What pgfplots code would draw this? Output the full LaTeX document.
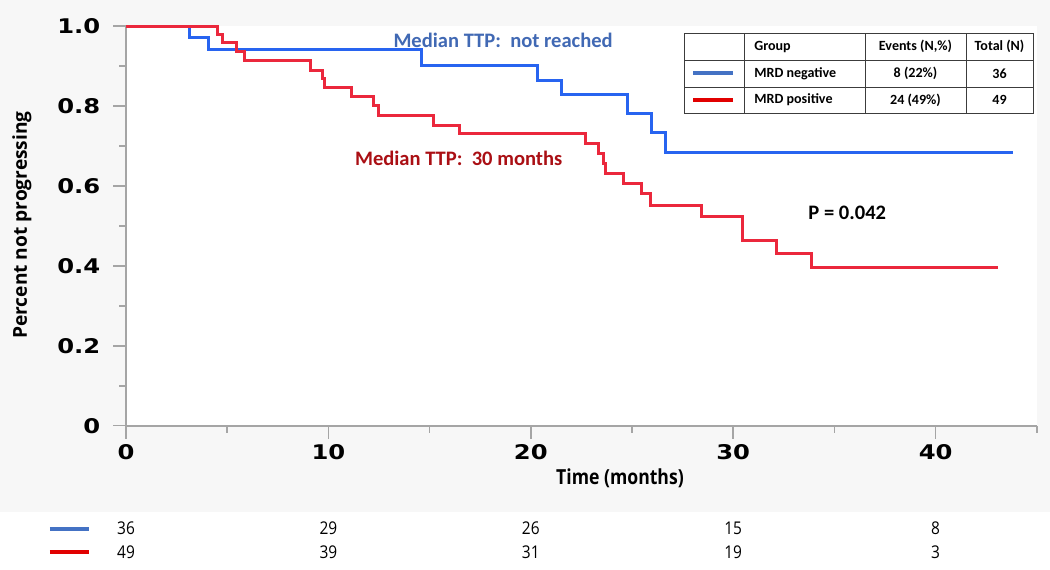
\documentclass[border=0pt]{standalone}
\usepackage{fontspec}
\setmainfont{Carlito}
\newfontfamily\tickfont{DejaVu Sans}[FakeStretch=1.2]
\newfontfamily\labfont{Open Sans}[FakeStretch=0.85]
\newfontfamily\labfontY{Open Sans}
\newfontfamily\numfont{Open Sans}[FakeStretch=0.88]
\usepackage{pgfplots}
\usepackage{pgfplotstable}
\pgfplotsset{compat=1.18}
\definecolor{bggray}{RGB}{247,247,247}
\definecolor{axisgray}{RGB}{165,165,165}
\definecolor{curveblue}{RGB}{40,100,240}
\definecolor{curvered}{RGB}{235,40,60}
\definecolor{txtblue}{RGB}{65,105,180}
\definecolor{txtred}{RGB}{170,15,20}
\definecolor{legblue}{RGB}{68,114,196}
\definecolor{legred}{RGB}{225,0,0}
\definecolor{tabline}{RGB}{60,60,60}

\pgfplotstableread{
t s
0 1
3.15 0.971
4.1 0.941
14.6 0.901
20.35 0.865
21.5 0.829
24.78 0.782
25.97 0.733
26.63 0.683
43.8 0.683
}\negtab

\pgfplotstableread{
t s
0 1
4.5 0.978
4.75 0.958
5.45 0.936
5.85 0.913
9.1 0.889
9.7 0.869
9.8 0.846
11.15 0.823
12.22 0.802
12.47 0.777
15.18 0.752
16.47 0.730
22.68 0.705
23.34 0.681
23.58 0.656
23.7 0.631
24.57 0.605
25.48 0.580
25.89 0.552
28.44 0.523
30.47 0.463
32.15 0.431
33.88 0.395
43.08 0.395
}\postab

\begin{document}
\begin{tikzpicture}[x=0.02cm,y=0.02cm]
\fill[bggray] (-126,-86.3) rectangle (924,425.7);
\fill[white] (-126,-143.3) rectangle (924,-86.3);
\begin{axis}[
  at={(0,0)}, anchor=south west,
  scale only axis, width=18.22cm, height=7.994cm,
  xmin=0, xmax=45, ymin=0, ymax=1,
  axis x line*=bottom, axis y line*=left,
  axis line style={-, draw=axisgray, line width=1.1pt},
  axis background/.style={fill=white},
  xtick={0,10,20,30,40}, xticklabels={0,10,20,30,40},
  minor xtick={5,15,25,35,45},
  ytick={0,0.2,0.4,0.6,0.8,1}, yticklabels={0,0.2,0.4,0.6,0.8,1.0},
  minor ytick={0.1,0.3,0.5,0.7,0.9},
  tick align=outside,
  major tick length=0.26cm, minor tick length=0.14cm,
  tick style={draw=axisgray, line width=0.9pt},
  tick label style={font=\tickfont\bfseries\fontsize{11.5}{12}\selectfont},
  yticklabel style={xshift=-0.13cm},
  clip=false,
]
\addplot[const plot, draw=curveblue, line width=1.7pt] table[x=t,y=s]{\negtab};
\addplot[const plot, draw=curvered, line width=1.7pt] table[x=t,y=s]{\postab};
\node[anchor=west, text=txtblue, inner sep=0, font=\bfseries\fontsize{11.7}{13}\selectfont] at (axis cs:13.2,0.965) {Median TTP:\ \ not reached};
\node[anchor=west, text=txtred, inner sep=0, font=\bfseries\fontsize{11.7}{13}\selectfont] at (axis cs:11.3,0.67) {Median TTP:\ \ 30 months};
\node[anchor=west, text=black, inner sep=0, font=\bfseries\fontsize{11.7}{13}\selectfont] at (axis cs:33.7,0.532) {P = 0.042};
\end{axis}
% legend table
\fill[white] (558,312.7) rectangle (907,392.7);
\draw[tabline, line width=0.5pt] (558,312.7) rectangle (907,392.7);
\draw[tabline, line width=0.5pt] (618,312.7) -- (618,392.7) (739,312.7) -- (739,392.7) (840,312.7) -- (840,392.7)
  (558,365.7) -- (907,365.7) (558,338.7) -- (907,338.7);
\draw[legblue, line width=2.2pt] (567,352.7) -- (607,352.7);
\draw[legred, line width=2.2pt] (567,325.9) -- (607,325.9);
\begin{scope}[every node/.style={font=\bfseries\fontsize{8}{9}\selectfont, inner sep=0}]
\node[anchor=west] at (628,379.2) {Group};
\node at (789.5,379.2) {Events (N,\%)};
\node at (873.5,379.2) {Total (N)};
\node[anchor=west] at (628,352.2) {MRD negative};
\node at (789.5,352.2) {8 (22\%)};
\node at (873.5,352.2) {36};
\node[anchor=west] at (628,325.7) {MRD positive};
\node at (789.5,325.7) {24 (49\%)};
\node at (873.5,325.7) {49};
\end{scope}
% axis labels
\node[rotate=90, font=\labfontY\bfseries\fontsize{10.9}{12}\selectfont] at (-104,200.7) {Percent not progressing};
\node[font=\labfont\bfseries\fontsize{11.8}{13}\selectfont] at (494,-52.3) {Time (months)};
% risk table
\draw[legblue, line width=2.2pt] (-76,-103.3) -- (-37,-103.3);
\draw[legred, line width=2.2pt] (-76,-126.3) -- (-37,-126.3);
\begin{scope}[every node/.style={font=\numfont\fontsize{10}{11}\selectfont}]
\node at (0,-102.3) {36}; \node at (202.4,-102.3) {29}; \node at (404.8,-102.3) {26}; \node at (607.2,-102.3) {15}; \node at (809.6,-102.3) {8};
\node at (0,-126.3) {49}; \node at (202.4,-126.3) {39}; \node at (404.8,-126.3) {31}; \node at (607.2,-126.3) {19}; \node at (809.6,-126.3) {3};
\end{scope}
\pgfresetboundingbox
\path (-126,-143.3) rectangle (924,425.7);
\end{tikzpicture}
\end{document}
